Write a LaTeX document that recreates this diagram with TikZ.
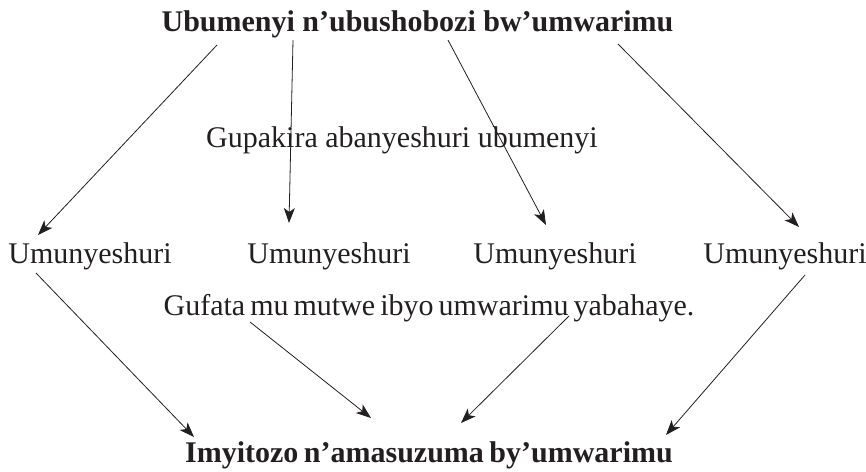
\documentclass[tikz,border=0pt]{standalone}
\usepackage{fontspec}
\setmainfont{Liberation Serif}
\usetikzlibrary{arrows.meta}
\definecolor{ink}{HTML}{231F20}
\begin{document}
\begin{tikzpicture}[x=1pt,y=-1pt,
  lbl/.style={inner sep=0pt,anchor=base,font=\fontsize{30}{34}\selectfont,text=ink},
  ttl/.style={inner sep=0pt,anchor=base,font=\fontsize{30}{34}\selectfont\bfseries,text=ink},
  arr/.style={-{Stealth[length=15pt,width=11pt,inset=4pt]},line width=0.8pt,ink}]
\useasboundingbox (0,0) rectangle (866,471);
\node[ttl] (top) at (417.5,31) {Ubumenyi n’ubushobozi bw’umwarimu};
\node[lbl] (mid) at (402,147) {Gupakira abanyeshuri ubumenyi};
\node[lbl] (s1) at (90,263) {Umunyeshuri};
\node[lbl] (s2) at (329,263) {Umunyeshuri};
\node[lbl] (s3) at (555,263) {Umunyeshuri};
\node[lbl] (s4) at (785,263) {Umunyeshuri};
\node[lbl] (low) at (429,315) {\spaceskip=5pt plus 1pt Gufata mu mutwe ibyo umwarimu yabahaye.};
\node[ttl] (bot) at (429,462) {\spaceskip=5.5pt plus 1pt Imyitozo n’amasuzuma by’umwarimu};
% connector end points (just off the nodes)
\coordinate (top1) at (217,45);  \coordinate (s1in) at (38,235);
\coordinate (top2) at (293,40);  \coordinate (s2in) at (289,223);
\coordinate (top3) at (448,40);  \coordinate (s3in) at (546,225);
\coordinate (top4) at (618,44);  \coordinate (s4in) at (799,227);
\coordinate (s1out) at (36,273); \coordinate (bot1) at (194,437);
\coordinate (low1) at (250,322); \coordinate (bot2) at (371,418);
\coordinate (low2) at (569,316); \coordinate (bot3) at (461,423);
\coordinate (s4out) at (805,275); \coordinate (bot4) at (666,435);
\draw[arr] (top1) -- (s1in);
\draw[arr] (top2) -- (s2in);
\draw[arr] (top3) -- (s3in);
\draw[arr] (top4) -- (s4in);
\draw[arr] (s1out) -- (bot1);
\draw[arr] (low1) -- (bot2);
\draw[arr] (low2) -- (bot3);
\draw[arr] (s4out) -- (bot4);
\end{tikzpicture}
\end{document}
